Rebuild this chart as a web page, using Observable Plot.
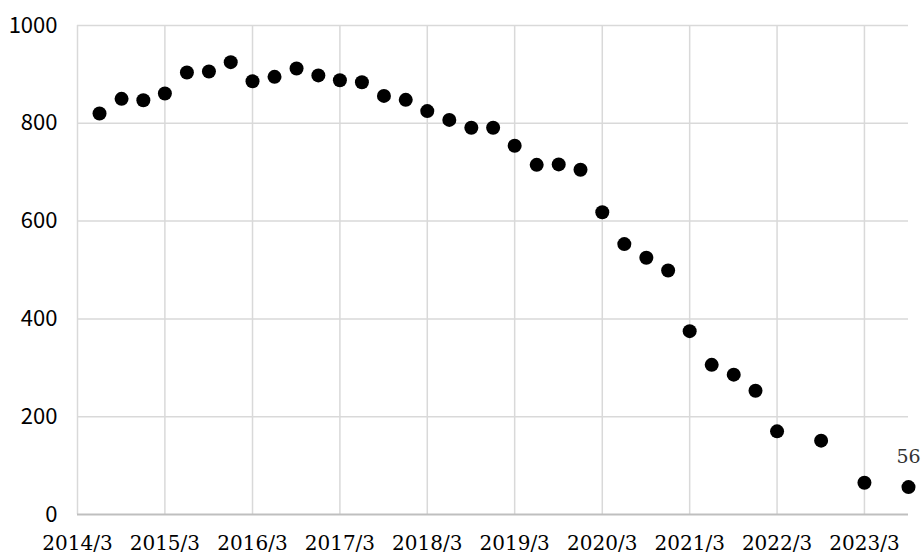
<!DOCTYPE html>
<html>
<head>
<meta charset="utf-8">
<script src="https://cdn.jsdelivr.net/npm/d3@7"></script>
<script src="https://cdn.jsdelivr.net/npm/@observablehq/plot@0.6"></script>
<style>
  html, body { margin: 0; padding: 0; background: #fff; }
  #chart svg { display: block; }
</style>
</head>
<body>
<div id="chart"></div>
<script>
// Data (quarter end labels "year/month")
const periods = [
  "2014/6","2014/9","2014/12","2015/3","2015/6","2015/9","2015/12",
  "2016/3","2016/6","2016/9","2016/12","2017/3","2017/6","2017/9","2017/12",
  "2018/3","2018/6","2018/9","2018/12","2019/3","2019/6","2019/9","2019/12",
  "2020/3","2020/6","2020/9","2020/12","2021/3","2021/6","2021/9","2021/12",
  "2022/3","2022/9","2023/3","2023/9"
];
const values = [
  820, 850, 847, 861, 904, 906, 925,
  886, 895, 912, 898, 888, 884, 856, 848,
  825, 807, 791, 791, 754, 715, 716, 705,
  618, 553, 525, 499, 375, 306, 286, 253,
  170, 151, 65, 56
];
const xTickLabels = ["2014/3","2015/3","2016/3","2017/3","2018/3","2019/3","2020/3","2021/3","2022/3","2023/3"];
const yTicks = [0, 200, 400, 600, 800, 1000];
const domainStart = "2014/3";
const domainEnd = "2023/9";
const lastLabel = "56";

const parse = s => { const [y, m] = s.split("/").map(Number); return new Date(Date.UTC(y, m - 1, 1)); };
const data = periods.map((p, i) => ({date: parse(p), value: values[i]}));
const xTicks = xTickLabels.map(parse);
const fmt = d => `${d.getUTCFullYear()}/${d.getUTCMonth() + 1}`;

const chart = Plot.plot({
  width: 922,
  height: 555,
  marginLeft: 77,
  marginRight: 14,
  marginTop: 25,
  marginBottom: 41,
  style: {background: "#fff", color: "#000"},
  x: {type: "utc", domain: [parse(domainStart), parse(domainEnd)]},
  y: {domain: [0, 1000]},
  marks: [
    Plot.ruleY(yTicks.filter(d => d > 0), {stroke: "#d9d9d9", strokeWidth: 1.5}),
    Plot.ruleX(xTicks, {stroke: "#d9d9d9", strokeWidth: 1.5}),
    Plot.ruleY([0], {stroke: "#bfbfbf", strokeWidth: 2}),
    Plot.axisY({ticks: yTicks, tickSize: 0, tickPadding: 20, fontSize: 22, fontFamily: "'Noto Sans CJK JP', 'Noto Sans', sans-serif", label: null, tickFormat: d => String(d)}),
    Plot.axisX({ticks: xTicks, tickSize: 0, tickPadding: 21, fontSize: 20, fontFamily: "'DejaVu Serif', serif", label: null, tickFormat: fmt}),
    Plot.dot(data, {x: "date", y: "value", r: 7, fill: "#000", stroke: "none"}),
    Plot.text(data.slice(-1), {x: "date", y: "value", text: () => lastLabel, dy: -30, fontSize: 19, fontFamily: "'DejaVu Serif', serif", fill: "#333"})
  ]
});
document.getElementById("chart").appendChild(chart);
</script>
</body>
</html>
